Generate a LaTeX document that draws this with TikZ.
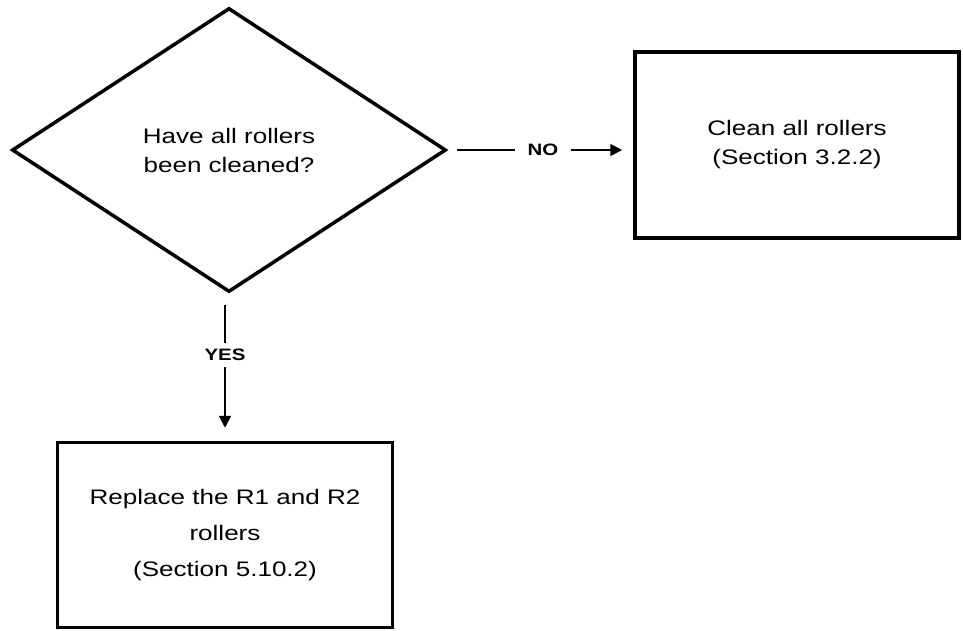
\documentclass[tikz,border=0pt]{standalone}
\usepackage{fontspec}
\setmainfont[FakeStretch=1.24]{Liberation Sans}
\usepackage{tikz}
\usetikzlibrary{shapes.geometric,arrows.meta}

\tikzset{
  frame/.style={draw, line width=3.5pt, rectangle, align=center},
  flow/.style={line width=1.8pt},
  flowarrow/.style={flow, -{Triangle[length=12pt,width=12pt]}},
  answer/.style={inner xsep=12pt, inner ysep=6pt, font=\fontsize{16.5}{20}\selectfont\bfseries}
}

\begin{document}
\begin{tikzpicture}[x=1pt, y=-1pt, font=\fontsize{21}{29}\selectfont]
\useasboundingbox (0,0) rectangle (963,630);
\node[diamond, draw, line width=3.5pt, align=center, minimum width=434pt, minimum height=284pt, inner sep=0pt]
  (asked) at (229,150) {Have all rollers\\been cleaned?};
\node[frame, minimum width=324pt, minimum height=186pt] (clean) at (797,145)
  {Clean all rollers\\(Section 3.2.2)};
\node[frame, minimum width=335pt, minimum height=185pt, font=\fontsize{21}{36}\selectfont] (replace) at (225,535)
  {Replace the R1 and R2\\rollers\\(Section 5.10.2)};
\node[answer] (no) at (543,150) {NO};
\node[answer, inner xsep=2pt] (yes) at (225,355) {YES};
\draw[flow, shorten <=9pt] (asked.east) -- (no.west);
\draw[flowarrow, shorten >=11pt] (no.east) -- (no.east -| clean.west);
\draw[flow, shorten <=11pt] (asked.south -| yes.north) -- (yes.north);
\draw[flowarrow, shorten >=13pt] (yes.south) -- (replace.north);
\end{tikzpicture}
\end{document}
